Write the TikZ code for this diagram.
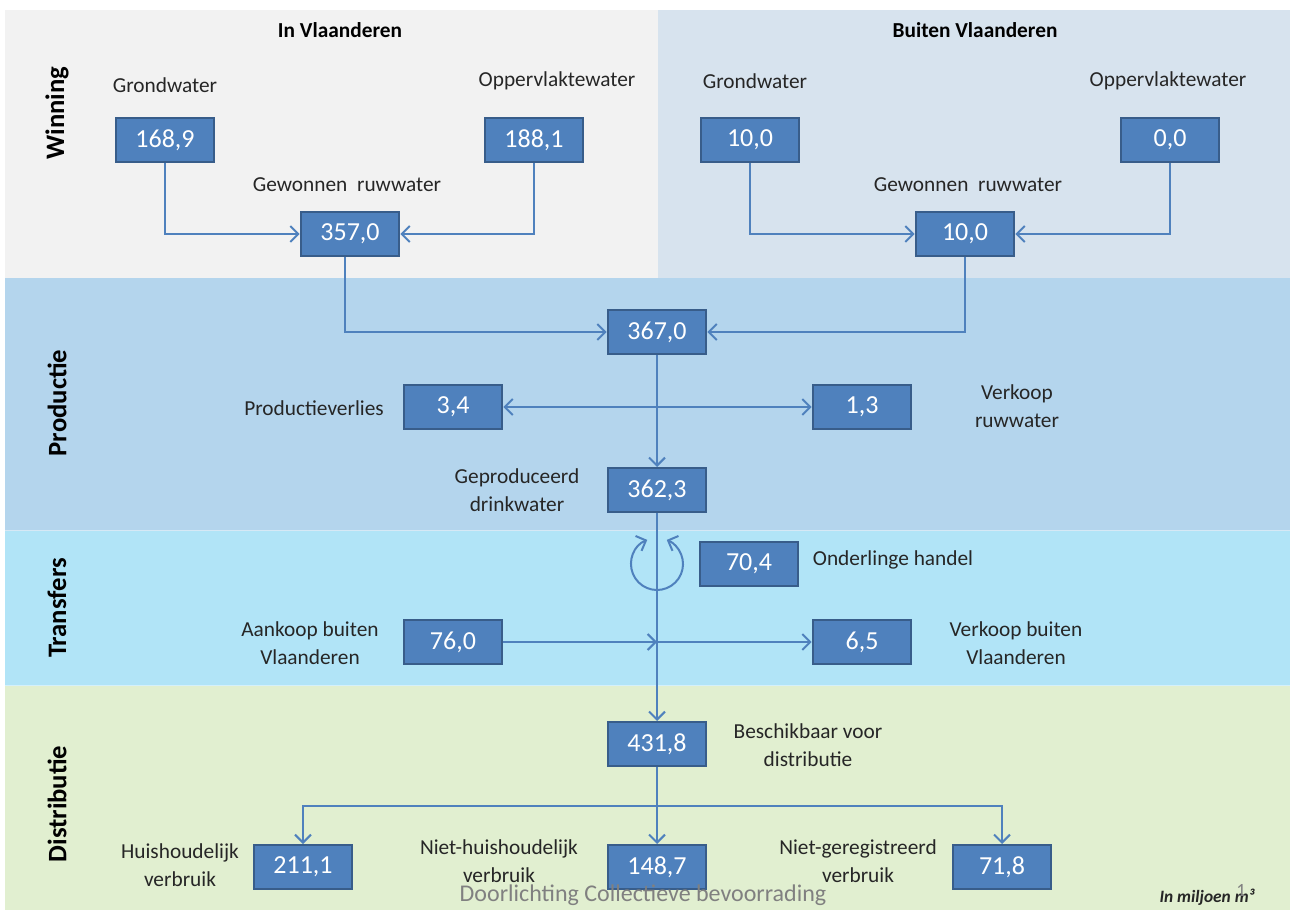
\documentclass[tikz,border=0pt]{standalone}
\usepackage{fontspec}
\setmainfont{Carlito}
\usetikzlibrary{arrows.meta,calc}

\definecolor{boxblue}{HTML}{4F81BD}
\definecolor{boxedge}{HTML}{385D8A}
\definecolor{winleft}{HTML}{F2F2F2}
\definecolor{winright}{HTML}{D7E3EE}
\definecolor{prodband}{HTML}{B4D5ED}
\definecolor{transband}{HTML}{B1E4F7}
\definecolor{distband}{HTML}{E1EFD0}
\definecolor{labeltext}{HTML}{262626}
\definecolor{footgray}{HTML}{808080}

\begin{document}
\begin{tikzpicture}[x=0.75pt, y=-0.75pt,
    >={Straight Barb[length=6pt,width=12pt]},
    val/.style={draw=boxedge, line width=1.5pt, fill=boxblue, text=white,
      minimum width=74pt, minimum height=33pt, inner sep=0pt,
      font=\fontsize{19.5}{20}\selectfont},
    lbl/.style={text=labeltext, align=center, inner sep=0pt,
      font=\fontsize{16}{21}\selectfont},
    head/.style={inner sep=0pt, font=\bfseries\fontsize{16}{19}\selectfont},
    phase/.style={inner sep=0pt, rotate=90, font=\bfseries\fontsize{20}{22}\selectfont},
    flow/.style={draw=boxblue, line width=1.5pt, ->}]

    % bands
    \fill[white] (0,0) rectangle (1294,912);
    \fill[winleft] (5,10) rectangle (658,278);
    \fill[winright] (658,10) rectangle (1290,278);
    \fill[prodband] (5,278) rectangle (1290,530);
    \fill[transband] (5,530) rectangle (1290,685);
    \fill[distband] (5,685) rectangle (1290,910);
    \draw[white!45!prodband, line width=0.75pt] (5,530) -- (1290,530);
    \draw[white!45!transband, line width=0.75pt] (5,685) -- (1290,685);

    \node[head] (invl) at (340,30) {In Vlaanderen};
    \node[head] (buvl) at (975,30) {Buiten Vlaanderen};
    \node[phase] (winning) at (57,113) {Winning};
    \node[phase] (productie) at (57,403) {Productie};
    \node[phase] (transfers) at (57,608) {Transfers};
    \node[phase] (distributie) at (57,804) {Distributie};

    % winning
    \node[val] (gw1) at (165,140) {168,9};
    \node[val] (ow1) at (534,140) {188,1};
    \node[val] (rw1) at (350,234) {357,0};
    \node[val] (gw2) at (750,140) {10,0};
    \node[val] (ow2) at (1170,140) {0,0};
    \node[val] (rw2) at (965,234) {10,0};
    \node[lbl] (gw1-t) at (165,85) {Grondwater};
    \node[lbl] (ow1-t) at (557,81) {Oppervlaktewater};
    \node[lbl] (rw1-t) at (347,185) {Gewonnen\ \ ruwwater};
    \node[lbl] (gw2-t) at (755,81) {Grondwater};
    \node[lbl] (ow2-t) at (1168,81) {Oppervlaktewater};
    \node[lbl] (rw2-t) at (968,185) {Gewonnen\ \ ruwwater};

    % productie
    \node[val] (tot) at (657,332) {367,0};
    \node[val] (verl) at (453,407) {3,4};
    \node[val] (vkr) at (862,407) {1,3};
    \node[val] (drk) at (657,490) {362,3};
    \node[lbl] (verl-t) at (314,408) {Productieverlies};
    \node[lbl] (vkr-t) at (1017,406) {Verkoop\\ruwwater};
    \node[lbl] (drk-t) at (517,490) {Geproduceerd\\drinkwater};

    % transfers
    \node[val] (onh) at (749,564) {70,4};
    \node[val] (akb) at (453,642) {76,0};
    \node[val] (vkb) at (862,642) {6,5};
    \node[lbl] (onh-t) at (893,560) {Onderlinge handel};
    \node[lbl] (akb-t) at (310,643) {Aankoop buiten\\Vlaanderen};
    \node[lbl] (vkb-t) at (1016,643) {Verkoop buiten\\Vlaanderen};

    % distributie
    \node[val] (bes) at (657,744) {431,8};
    \node[val] (hh) at (303,867) {211,1};
    \node[val] (nhh) at (657,867) {148,7};
    \node[val] (ngr) at (1002,867) {71,8};
    \node[lbl] (bes-t) at (808,745) {Beschikbaar voor\\distributie};
    \node[lbl] (hh-t) at (180,865) {Huishoudelijk\\verbruik};
    \node[lbl] (nhh-t) at (499,861) {Niet-huishoudelijk\\verbruik};
    \node[lbl] (ngr-t) at (858,861) {Niet-geregistreerd\\verbruik};

    \node[text=footgray, inner sep=0pt, font=\fontsize{18}{20}\selectfont] (voet) at (643,895) {Doorlichting Collectieve bevoorrading};
    \node[text=labeltext, inner sep=0pt, font=\bfseries\itshape\fontsize{13}{15}\selectfont] (eenheid) at (1207,897) {In miljoen m³};
    \node[text=footgray, inner sep=0pt, font=\fontsize{14}{16}\selectfont] (paginanr) at (1241,890) {1};

    % connectors
    \draw[flow] (gw1.south) |- (rw1.west);
    \draw[flow] (ow1.south) |- (rw1.east);
    \draw[flow] (gw2.south) |- (rw2.west);
    \draw[flow] (ow2.south) |- (rw2.east);
    \draw[flow] ([xshift=-4pt]rw1.south) |- (tot.west);
    \draw[flow] (rw2.south) |- (tot.east);
    \draw[flow] (tot) -- (drk);
    \draw[flow, <->] (verl) -- (vkr);
    \draw[flow] (drk) -- (bes);
    \draw[flow, <->] (drk |- onh) ++(112:19.5pt) arc[start angle=112, end angle=428, radius=19.5pt];
    \coordinate (kruis) at (drk |- akb);
    \draw[flow] (akb) -- (kruis);
    \draw[flow] (kruis) -- (vkb);
    \coordinate (split) at ($(bes.south)!0.5!(nhh.north)$);
    \draw[flow] (bes) -- (nhh);
    \draw[flow] (split) -| (hh);
    \draw[flow] (split) -| (ngr);
\end{tikzpicture}
\end{document}
